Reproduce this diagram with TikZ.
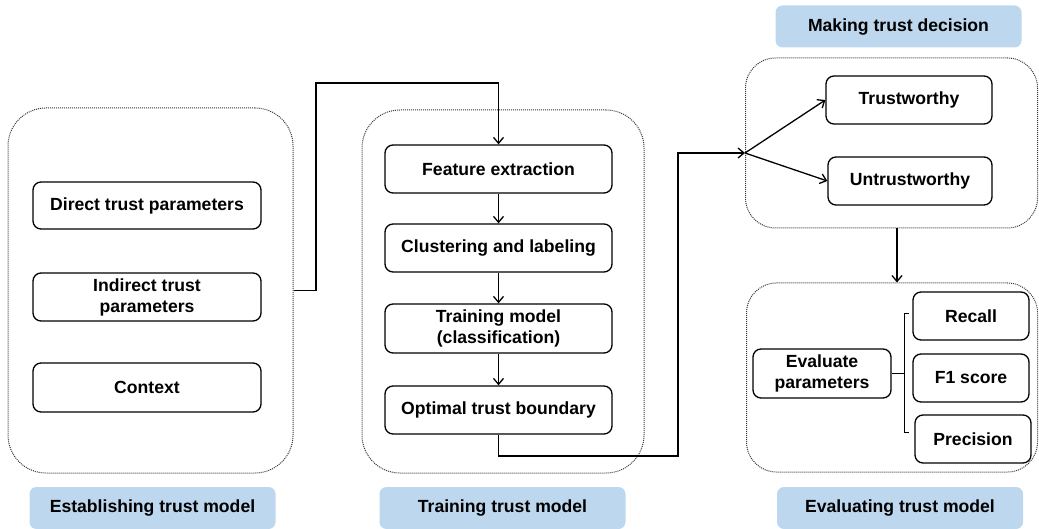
\documentclass[tikz,border=0pt]{standalone}
\usepackage{fontspec}
\setmainfont{Liberation Sans}
\usetikzlibrary{arrows.meta,calc}
\definecolor{tagblue}{HTML}{BDD7EE}
\definecolor{dotgray}{HTML}{3A3A3A}
\begin{document}
\begin{tikzpicture}[x=1pt,y=-1pt,
  font=\fontsize{17.6}{21}\selectfont\bfseries,
  stage/.style={draw=dotgray,densely dotted,line width=1pt,rounded corners=38pt,
    minimum width=#1,inner sep=0pt},
  item/.style={draw,line width=1.3pt,rounded corners=8pt,align=center,inner sep=0pt},
  tag/.style={fill=tagblue,rounded corners=7pt,minimum width=246pt,minimum height=42pt,inner sep=0pt},
  link/.style={line width=1.3pt},
  arr/.style={line width=1.3pt,-{Straight Barb[length=6pt,width=10pt,line width=1.3pt]}}]
\useasboundingbox (0,0) rectangle (1039,529);

% stage containers
\node[stage=285pt,minimum height=365pt] (estab) at (150.5,290.5) {};
\node[stage=282pt,minimum height=363pt] (train) at (503,291.5) {};
\node[stage=292pt,minimum height=170pt,rounded corners=30pt] (dec) at (891.5,143) {};
\node[stage=291pt,minimum height=189pt,rounded corners=30pt] (evalc) at (892,377.5) {};

% establishing trust model
\node[item,minimum width=228pt,minimum height=47pt] (direct) at (147,205.5) {Direct trust parameters};
\node[item,minimum width=228pt,minimum height=48pt] (indirect) at (147,297) {Indirect trust\\parameters};
\node[item,minimum width=228pt,minimum height=49pt] (context) at (147,387.5) {Context};

% training trust model
\node[item,minimum width=227pt,minimum height=48pt] (feat) at (498.5,169) {Feature extraction};
\node[item,minimum width=227pt,minimum height=48pt] (clus) at (498.5,248) {Clustering and labeling};
\node[item,minimum width=227pt,minimum height=49pt] (trainm) at (498.5,328.5) {Training model\\(classification)};
\node[item,minimum width=227pt,minimum height=48pt] (opt) at (498.5,410) {Optimal trust boundary};

% decision
\node[item,minimum width=166pt,minimum height=48pt] (trust) at (909,100) {Trustworthy};
\node[item,minimum width=164pt,minimum height=48pt] (untrust) at (910,181) {Untrustworthy};

% evaluation
\node[item,minimum width=138pt,minimum height=49pt] (evalp) at (822,373.5) {Evaluate\\parameters};
\node[item,minimum width=116pt,minimum height=48pt] (recall) at (971,316) {Recall};
\node[item,minimum width=116pt,minimum height=48pt] (f1) at (971,378) {F1 score};
\node[item,minimum width=116pt,minimum height=48pt] (prec) at (973,439) {Precision};

% stage tags
\node[tag] (tagdec) at (898.5,26.5) {Making trust decision};
\node[tag] (tagestab) at (152.5,508) {Establishing trust model};
\node[tag] (tagtrain) at (502.5,508) {Training trust model};
\node[tag] (tageval) at (900,508) {Evaluating trust model};

% connectors
\draw[arr] (estab.east) -| (316,83) -| (feat.north);
\draw[arr] (feat) -- (clus);
\draw[arr] (clus) -- (trainm);
\draw[arr] (trainm) -- (opt);

\coordinate (split) at (745,153);
\draw[arr] (opt.south) |- (678,456) |- (split);
\draw[arr] (split) -- (trust.west);
\draw[arr] (split) -- (untrust.west);

\draw[arr] ([xshift=5.5pt]dec.south) -- ([xshift=5pt]evalc.north);

% bracket grouping the metrics
\coordinate (btop) at (904,314);
\coordinate (bbot) at (904,432);
\draw[link,line width=1pt] (evalp.east) -- (evalp.east -| btop);
\draw[link,line width=1pt] ([xshift=5pt]btop) -- (btop) -- (bbot) -- ([xshift=5pt]bbot);
\end{tikzpicture}
\end{document}
